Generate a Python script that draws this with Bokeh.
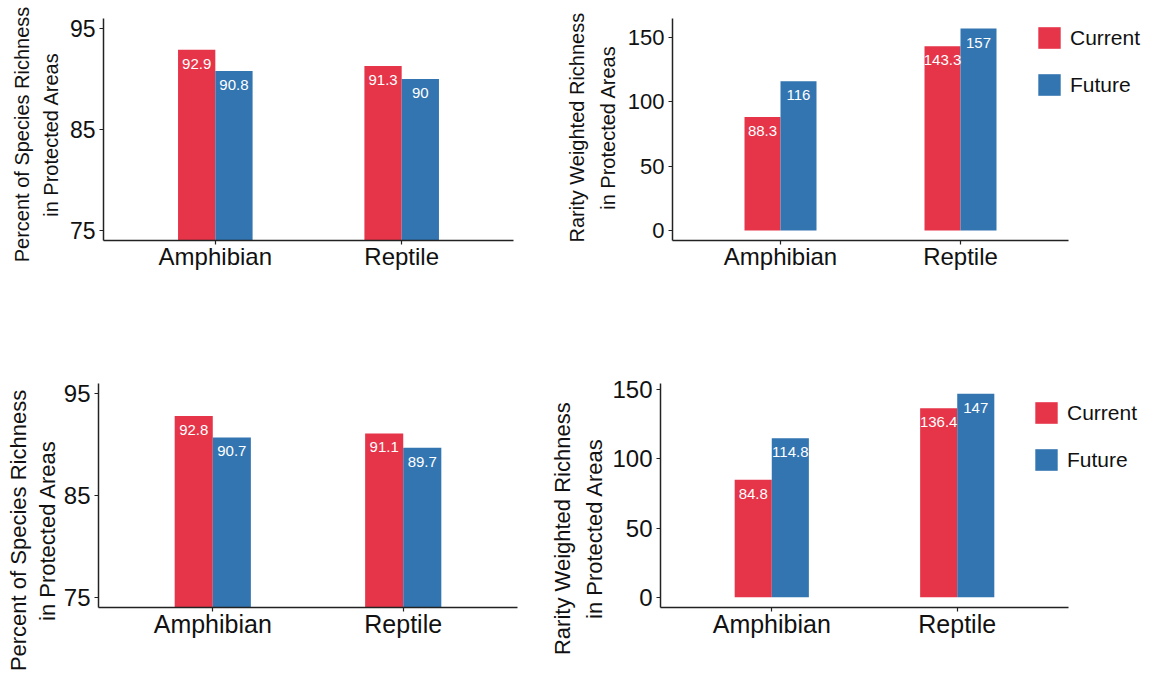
from bokeh.plotting import figure
from bokeh.models import (ColumnDataSource, Range1d, FixedTicker,
                          Legend, LegendItem, Title)
from bokeh.transform import dodge
from bokeh.layouts import column, row
from bokeh.core.properties import value
from bokeh.embed import file_html
from bokeh.resources import INLINE

# ---------------- data ----------------
categories = ["Amphibian", "Reptile"]
series_names = ["Current", "Future"]

tl_current = [92.9, 91.3]
tl_future = [90.8, 90.0]

tr_current = [88.3, 143.3]
tr_future = [116.0, 157.0]

bl_current = [92.8, 91.1]
bl_future = [90.7, 89.7]

br_current = [84.8, 136.4]
br_future = [114.8, 147.0]

pct_ticks = [75, 85, 95]
rw_ticks = [0, 50, 100, 150]

pct_title = ["Percent of Species Richness", "in Protected Areas"]
rw_title = ["Rarity Weighted Richness", "in Protected Areas"]

# ---------------- style ----------------
RED = "#E63449"
BLUE = "#3275B1"
FONT = "Liberation Sans"
AXIS_COL = "#222222"

# approximate em widths (Arial metrics) used to centre rotated titles
EM = {"Percent of Species Richness": 12.783, "in Protected Areas": 8.226,
      "Rarity Weighted Richness": 11.503}

XPOS = [i + 1 for i in range(len(categories))]
X_LO, X_HI = 0.4, len(categories) + 0.6


def fmt(v):
    return f"{v:g}"


def make_panel(cur, fut, yrange, ticks, origin, frame, size, title_lines,
               title_center, title_font, gaps, tick_font, cat_font,
               legend_box=None):
    ox, oy = origin
    fl, ft, fr, fb = frame          # fr = right end of the x axis line
    W, H = size
    frame_right = ox + W - 2 if legend_box is not None else fr
    unit = (fr - fl) / (X_HI - X_LO)
    x_end = X_HI + (frame_right - fr) / unit
    p = figure(width=W, height=H, output_backend="svg", toolbar_location=None,
               x_range=Range1d(X_LO, x_end), y_range=Range1d(*yrange),
               min_border_left=fl - ox, min_border_right=W - (frame_right - ox),
               min_border_top=ft - oy, min_border_bottom=H - (fb - oy))
    p.outline_line_color = None
    p.xgrid.visible = False
    p.ygrid.visible = False
    p.background_fill_color = "white"
    p.border_fill_color = "white"

    src = ColumnDataSource(dict(x=XPOS, cur=cur, fut=fut,
                                cur_lbl=[fmt(v) for v in cur],
                                fut_lbl=[fmt(v) for v in fut]))
    r1 = p.vbar(x=dodge("x", -0.1), top="cur", bottom=0,
                width=0.2, source=src, fill_color=RED, line_color=None)
    r2 = p.vbar(x=dodge("x", 0.1), top="fut", bottom=0,
                width=0.2, source=src, fill_color=BLUE, line_color=None)
    for off, col in ((-0.1, "cur"), (0.1, "fut")):
        p.text(x=dodge("x", off), y=col, text=col + "_lbl",
               source=src, y_offset=14, text_align="center",
               text_baseline="middle", text_color="white",
               text_font=value(FONT), text_font_size="15px")

    p.yaxis.ticker = FixedTicker(ticks=ticks)
    p.xaxis.ticker = FixedTicker(ticks=XPOS)
    p.xaxis.major_label_overrides = {x: c for x, c in zip(XPOS, categories)}
    p.xaxis.bounds = (X_LO, X_HI)
    for ax in (p.xaxis[0], p.yaxis[0]):
        ax.axis_line_color = AXIS_COL
        ax.axis_line_width = 1.5
        ax.major_tick_line_color = AXIS_COL
        ax.major_tick_line_width = 1.2
        ax.major_tick_in = 0
        ax.major_tick_out = 4
        ax.minor_tick_line_color = None
        ax.major_label_text_font = FONT
        ax.major_label_text_color = "#111111"
    p.yaxis.major_label_standoff = 4
    p.xaxis.major_label_standoff = -2
    p.yaxis.major_label_text_font_size = tick_font
    p.xaxis.major_label_text_font_size = cat_font

    # two-line rotated axis title: inner line first, then outer line
    fs = float(title_font.replace("px", ""))
    for txt, gap in zip(reversed(title_lines), gaps):
        length = EM[txt] * fs
        start = title_center + length / 2.0
        p.add_layout(Title(text=txt, align="left", offset=fb - start,
                           standoff=gap, text_font=FONT,
                           text_font_style="normal", text_font_size=title_font,
                           text_color="#111111"), "left")

    if legend_box is not None:
        lx, ly = legend_box
        leg_h = 27 * 2 + 20
        leg = Legend(items=[LegendItem(label=series_names[0], renderers=[r1]),
                            LegendItem(label=series_names[1], renderers=[r2])],
                     location=(lx - fl, fb - (ly + leg_h)), orientation="vertical",
                     glyph_width=28, glyph_height=27, label_height=27,
                     spacing=20, padding=0, margin=0, label_standoff=7,
                     label_text_font=FONT, label_text_font_size="21px",
                     label_text_color="#111111", label_text_baseline="middle",
                     border_line_color=None, background_fill_alpha=0)
        p.add_layout(leg)
    return p


def expand(vals):
    top = max(vals)
    return (-0.05 * top, top * 1.05)


tl = make_panel(tl_current, tl_future, (74, 96), pct_ticks,
                origin=(0, 0), frame=(103, 18, 513, 240), size=(560, 358),
                title_lines=pct_title, title_center=134, title_font="20px",
                gaps=(10, 0), tick_font="23px", cat_font="24px")
tr = make_panel(tr_current, tr_future, expand(tr_current + tr_future), rw_ticks,
                origin=(560, 0), frame=(672, 18, 1068, 240), size=(588, 358),
                title_lines=rw_title, title_center=127, title_font="20px",
                gaps=(12, 2), tick_font="22px", cat_font="24px",
                legend_box=(1035, 24))
bl = make_panel(bl_current, bl_future, (74, 96), pct_ticks,
                origin=(0, 358), frame=(98, 383, 517, 607), size=(545, 315),
                title_lines=pct_title, title_center=530, title_font="22px",
                gaps=(2, 2), tick_font="24px", cat_font="25px")
br = make_panel(br_current, br_future, expand(br_current + br_future), rw_ticks,
                origin=(545, 358), frame=(660, 383, 1068, 607), size=(603, 315),
                title_lines=rw_title, title_center=528, title_font="22px",
                gaps=(6, 3), tick_font="24px", cat_font="25px",
                legend_box=(1032, 399))

layout = column(row(tl, tr, spacing=0), row(bl, br, spacing=0), spacing=0)

with open("out.html", "w") as f:
    f.write(file_html(layout, INLINE))
